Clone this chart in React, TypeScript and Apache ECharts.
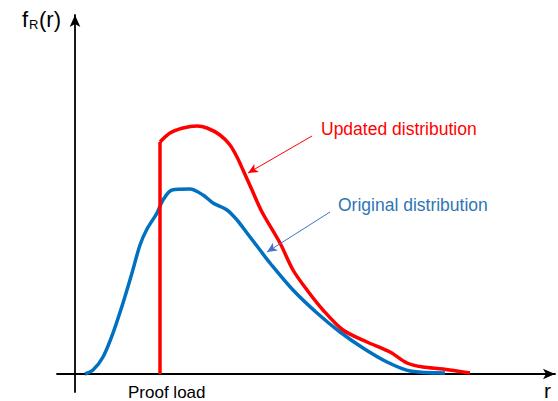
import React, { useEffect, useRef } from "react";
import * as echarts from "echarts";

// Conceptual density curves (arbitrary units: r along x, f_R(r) along y)
const originalR = [10, 18, 28, 38, 48, 57, 65, 72, 82, 88, 97, 115, 128, 138, 152, 162, 172, 185, 195, 218, 242, 265, 288, 312, 335, 370];
const originalF = [0, 4, 17, 41, 71, 101, 129, 145, 161, 174, 184, 185, 179, 171, 164, 154, 141, 124, 111, 84, 61, 42, 26, 12, 3, 1];

const updatedR = [85, 95, 108, 122, 132, 145, 155, 162, 168, 177, 187, 205, 218, 232, 248, 268, 292, 315, 332, 348, 368, 395];
const updatedF = [232, 241, 246, 248, 246, 239, 229, 217, 204, 184, 162, 131, 104, 84, 64, 44, 32, 22, 11, 7, 5, 1];

const proofLoad = 85;
const proofTop = 232;

const labels = {
  updated: "Updated distribution",
  original: "Original distribution",
  proof: "Proof load",
  xName: "r",
};

const updatedArrow = [[237, 238], [173, 201]];
const originalArrow = [[255, 162], [192, 122]];

const FONT = '"Liberation Sans", Arial, sans-serif';

export default function App() {
  const ref = useRef<HTMLDivElement>(null);
  useEffect(() => {
    if (!ref.current) return;
    const chart = echarts.init(ref.current, null, { renderer: "svg" });
    const zip = (a: number[], b: number[]) => a.map((v, i) => [v, b[i]]);
    const axisLineStyle = { color: "#000", width: 1.8 };
    chart.setOption({
      animation: false,
      backgroundColor: "#fff",
      grid: { left: 57, right: 3, top: 15, bottom: 9 },
      xAxis: {
        type: "value",
        min: -18,
        max: 480,
        axisLine: { show: true, onZero: true, symbol: ["none", "arrow"], symbolSize: [8, 12], lineStyle: axisLineStyle },
        axisTick: { show: false },
        axisLabel: { show: false },
        splitLine: { show: false },
      },
      yAxis: {
        type: "value",
        min: -18,
        max: 359,
        axisLine: { show: true, onZero: true, symbol: ["none", "arrow"], symbolSize: [8, 12], lineStyle: axisLineStyle },
        axisTick: { show: false },
        axisLabel: { show: false },
        splitLine: { show: false },
      },
      series: [
        {
          type: "line",
          name: labels.original,
          data: zip(originalR, originalF),
          smooth: 0.3,
          showSymbol: false,
          lineStyle: { color: "#0070C0", width: 3.5 },
          z: 2,
          markLine: {
            silent: true,
            symbol: ["none", "arrow"],
            symbolSize: [7, 10],
            label: { show: false },
            lineStyle: { color: "#4472C4", width: 1, type: "solid" },
            data: [[{ coord: originalArrow[0] }, { coord: originalArrow[1] }]],
          },
        },
        {
          type: "line",
          name: labels.updated,
          data: zip(updatedR, updatedF),
          smooth: 0.3,
          showSymbol: false,
          lineStyle: { color: "#FF0000", width: 3.5 },
          z: 3,
          markLine: {
            silent: true,
            symbol: ["none", "arrow"],
            symbolSize: [7, 10],
            label: { show: false },
            lineStyle: { color: "#FF0000", width: 1, type: "solid" },
            data: [[{ coord: updatedArrow[0] }, { coord: updatedArrow[1] }]],
          },
        },
        {
          type: "line",
          name: "proof",
          data: [[proofLoad, 0], [proofLoad, proofTop]],
          showSymbol: false,
          lineStyle: { color: "#FF0000", width: 3.5 },
          z: 3,
        },
      ],
      graphic: [
        { type: "text", x: 22, y: 19, style: { text: "f", font: `22px ${FONT}`, fill: "#000", textAlign: "left", verticalAlign: "middle" } },
        { type: "text", x: 29, y: 24, style: { text: "R", font: `13px ${FONT}`, fill: "#000", textAlign: "left", verticalAlign: "middle" } },
        { type: "text", x: 39, y: 19, style: { text: "(r)", font: `22px ${FONT}`, fill: "#000", textAlign: "left", verticalAlign: "middle" } },
        { type: "text", x: 544, y: 390, style: { text: labels.xName, font: `21px ${FONT}`, fill: "#000", textAlign: "left", verticalAlign: "middle" } },
        { type: "text", x: 128, y: 392, style: { text: labels.proof, font: `17px ${FONT}`, fill: "#000", textAlign: "left", verticalAlign: "middle" } },
        { type: "text", x: 321, y: 129, style: { text: labels.updated, font: `17.5px ${FONT}`, fill: "#FF0000", textAlign: "left", verticalAlign: "middle" } },
        { type: "text", x: 338, y: 205, style: { text: labels.original, font: `17.5px ${FONT}`, fill: "#2E75B6", textAlign: "left", verticalAlign: "middle" } },
      ],
    });
    return () => chart.dispose();
  }, []);
  return <div ref={ref} style={{ position: "fixed", left: 0, top: 0, width: 558, height: 401, background: "#fff" }} />;
}
